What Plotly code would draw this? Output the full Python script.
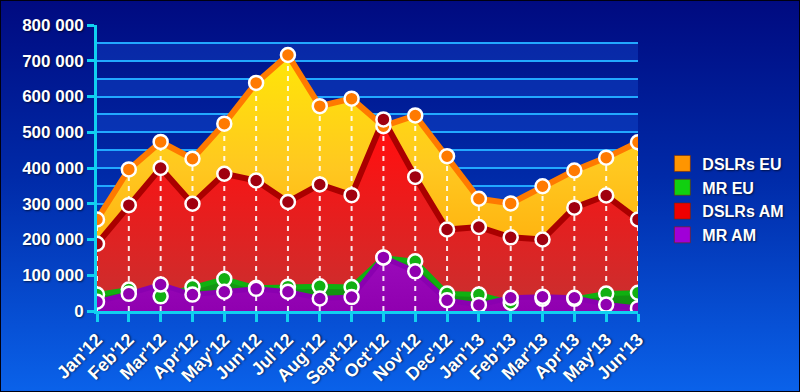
import numpy as np
import plotly.graph_objects as go

months = ["Jan'12", "Feb'12", "Mar'12", "Apr'12", "May'12", "Jun'12", "Jul'12", "Aug'12",
          "Sept'12", "Oct'12", "Nov'12", "Dec'12", "Jan'13", "Feb'13", "Mar'13", "Apr'13",
          "May'13", "Jun'13"]
dslrs_eu = [256000, 396000, 473000, 426000, 524000, 638000, 716000, 573000, 594000,
            517000, 547000, 433000, 314000, 301000, 349000, 393000, 429000, 472000]
dslrs_am = [188000, 296000, 400000, 300000, 384000, 365000, 305000, 354000, 324000,
            536000, 375000, 228000, 235000, 206000, 200000, 289000, 323000, 256000]
mr_eu = [46000, 60000, 41000, 67000, 90000, 65000, 68000, 69000, 67000,
         149000, 139000, 49000, 46000, 23000, 34000, 34000, 49000, 51000]
mr_am = [26000, 48000, 74000, 46000, 54000, 62000, 54000, 35000, 39000,
         150000, 111000, 30000, 17000, 37000, 40000, 37000, 18000, 8000]

series = [
    dict(name="DSLRs EU", y=dslrs_eu, line="#ff7a00", marker="#ff7a00",
         grad=[[0, "#ffa000"], [0.5, "#ffc820"], [1, "#ffee00"]], legend="#ff9500", lw=6),
    dict(name="DSLRs AM", y=dslrs_am, line="#aa0000", marker="#a00010",
         grad=[[0, "#c83030"], [0.6, "#ff1010"], [1, "#ff2020"]], legend="#ee0000", lw=6),
    dict(name="MR EU", y=mr_eu, line="#10b010", marker="#12b012",
         grad=[[0, "#109010"], [1, "#30d030"]], legend="#10d010", lw=5),
    dict(name="MR AM", y=mr_am, line="#8a00b0", marker="#9000b0",
         grad=[[0, "#9000b0"], [1, "#c838e8"]], legend="#a000d8", lw=5),
]
legend_order = ["DSLRs EU", "MR EU", "DSLRs AM", "MR AM"]

W, H = 800, 392
L, R, T, B = 97, 162, 25, 81
pw, ph = W - L - R, H - T - B

fig = go.Figure()

for s in series:
    fig.add_trace(go.Scatter(
        x=months, y=s["y"], mode="lines", fill="tozeroy",
        line=dict(color=s["line"], width=s["lw"]),
        fillgradient=dict(type="vertical", colorscale=s["grad"], start=0, stop=800000),
        showlegend=False, hoverinfo="skip"))

tops = np.max(np.array([dslrs_eu, dslrs_am, mr_eu, mr_am]), axis=0)
dx, dy = [], []
for m, t in zip(months, tops):
    dx += [m, m, None]
    dy += [0, t, None]
fig.add_trace(go.Scatter(x=dx, y=dy, mode="lines",
                         line=dict(color="rgba(255,255,255,0.9)", width=2, dash="5px,5px"),
                         showlegend=False, hoverinfo="skip"))

for s in series:
    fig.add_trace(go.Scatter(
        x=months, y=s["y"], mode="markers",
        marker=dict(size=14, color=s["marker"], line=dict(color="white", width=2.5)),
        showlegend=False, name=s["name"]))

smap = {s["name"]: s for s in series}
for n in legend_order:
    s = smap[n]
    fig.add_trace(go.Scatter(x=[None], y=[None], mode="markers", name=n,
                             marker=dict(symbol="square", size=16, color=s["legend"],
                                         line=dict(color="rgba(120,40,0,0.6)", width=1))))

# alternating light bands
shapes = []
for k in range(8):
    shapes.append(dict(type="rect", xref="paper", yref="y", x0=0, x1=1,
                       y0=k * 100000, y1=k * 100000 + 50000,
                       fillcolor="rgba(30,100,240,0.28)", line=dict(width=0), layer="below"))
shapes.append(dict(type="rect", xref="paper", yref="paper",
                   x0=-L / pw, x1=(W - L) / pw, y0=-B / ph, y1=(H - B) / ph,
                   line=dict(color="#000010", width=2), fillcolor="rgba(0,0,0,0)"))

svg = ("data:image/svg+xml;utf8,<svg xmlns='http://www.w3.org/2000/svg' width='800' height='392'>"
       "<defs><linearGradient id='g' x1='0' y1='0' x2='0' y2='1'>"
       "<stop offset='0' stop-color='%23000a80'/><stop offset='0.45' stop-color='%23002aa8'/>"
       "<stop offset='1' stop-color='%230a62ea'/></linearGradient></defs>"
       "<rect width='800' height='392' fill='url(%23g)'/></svg>")

shadow = "1px 1px 2px rgba(0,0,0,0.6)"
fig.update_layout(
    width=W, height=H,
    margin=dict(l=L, r=R, t=T, b=B, autoexpand=False),
    paper_bgcolor="#0030b0",
    plot_bgcolor="rgba(0,0,0,0)",
    separators=". ",
    images=[dict(source=svg, xref="paper", yref="paper", x=-L / pw, y=(H - B) / ph,
                 sizex=W / pw, sizey=H / ph, sizing="stretch", xanchor="left",
                 yanchor="top", layer="below")],
    shapes=shapes,
    font=dict(family="Liberation Sans, Arial", color="white"),
    legend=dict(x=1.045, y=0.575, xanchor="left", yanchor="top",
                font=dict(size=16, color="white", weight="bold", shadow=shadow),
                bgcolor="rgba(0,0,0,0)", tracegroupgap=0, itemwidth=30),
    xaxis=dict(type="category", range=[0, len(months) - 1], showgrid=False,
               showline=True, linecolor="#10d0f0", linewidth=3,
               ticks="outside", ticklen=8, tickwidth=3, tickcolor="#10d0f0",
               tickangle=-45, zeroline=False,
               tickfont=dict(size=18, color="white", weight="bold", shadow=shadow)),
    yaxis=dict(range=[0, 800000], dtick=100000, tickformat=",d",
               showgrid=True, gridcolor="#22a8ff", gridwidth=1.5,
               minor=dict(dtick=50000, showgrid=True, gridcolor="#22a8ff", gridwidth=1.5),
               showline=True, linecolor="#10d0f0", linewidth=3,
               ticks="outside", ticklen=7, tickwidth=3, tickcolor="#10d0f0",
               zeroline=False,
               tickfont=dict(size=17, color="white", weight="bold", shadow=shadow)),
)

fig.write_html("out.html", config={"displayModeBar": False},
               post_script="document.body.style.margin='0px';")
